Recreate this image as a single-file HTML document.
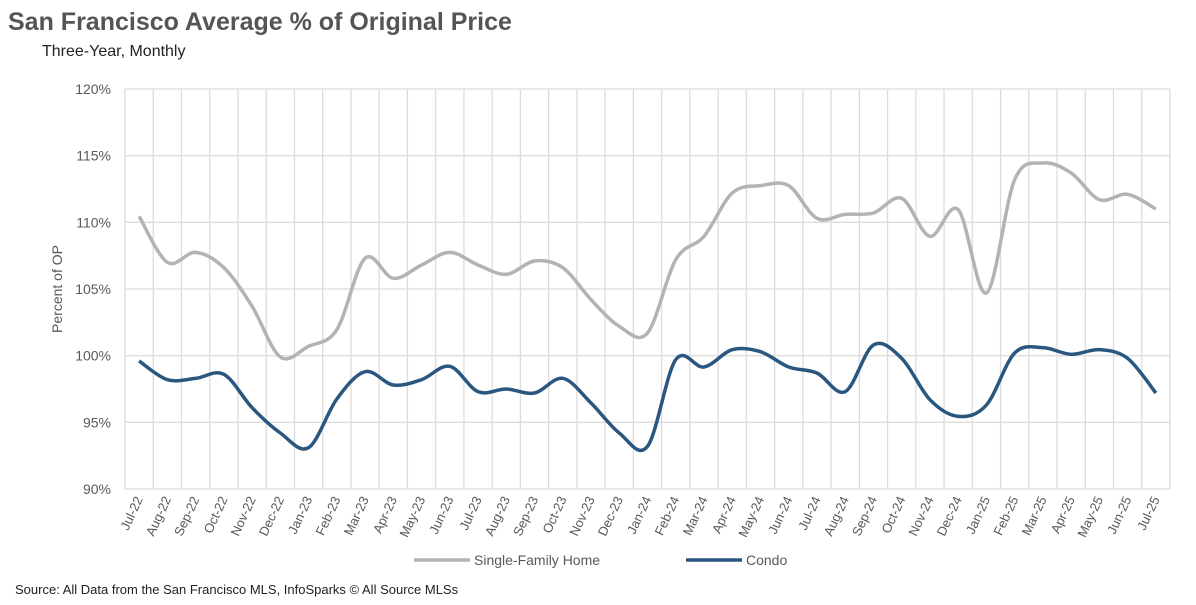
<!DOCTYPE html>
<html><head><meta charset="utf-8"><style>
body{margin:0;background:#fff;width:1196px;height:600px;overflow:hidden;font-family:"Liberation Sans",sans-serif}
</style></head><body>
<svg width="1196" height="600">
<text x="8" y="30" font-size="25" font-weight="bold" fill="#555">San Francisco Average % of Original Price</text>
<text x="42" y="56" font-size="16" fill="#222">Three-Year, Monthly</text>
<text transform="translate(62,289) rotate(-90)" text-anchor="middle" font-size="14" fill="#595959">Percent of OP</text>
<g id="grid"></g>
<g id="ylab"></g>
<g id="xlab"></g>
<g id="lines"></g>
<g>
<line x1="414" y1="560" x2="470" y2="560" stroke="#b3b3b3" stroke-width="3.5"/>
<text x="474" y="565" font-size="14" fill="#595959">Single-Family Home</text>
<line x1="686" y1="560" x2="742" y2="560" stroke="#2a5780" stroke-width="3.5"/>
<text x="746" y="565" font-size="14" fill="#595959">Condo</text>
</g>
<text x="15" y="594" font-size="13" fill="#222">Source: All Data from the San Francisco MLS, InfoSparks © All Source MLSs</text>
</svg>
<script>
const categories=["Jul-22","Aug-22","Sep-22","Oct-22","Nov-22","Dec-22","Jan-23","Feb-23","Mar-23","Apr-23","May-23","Jun-23","Jul-23","Aug-23","Sep-23","Oct-23","Nov-23","Dec-23","Jan-24","Feb-24","Mar-24","Apr-24","May-24","Jun-24","Jul-24","Aug-24","Sep-24","Oct-24","Nov-24","Dec-24","Jan-25","Feb-25","Mar-25","Apr-25","May-25","Jun-25","Jul-25"];
const sfhValues=[110.45,107.0,107.75,106.6,103.7,99.9,100.7,101.95,107.3,105.8,106.8,107.75,106.8,106.1,107.1,106.6,104.2,102.2,101.7,107.2,108.95,112.2,112.75,112.75,110.3,110.6,110.7,111.8,108.95,110.95,104.7,113.2,114.45,113.7,111.7,112.1,111.0];
const condoValues=[99.6,98.2,98.3,98.6,96.1,94.2,93.1,96.75,98.8,97.8,98.2,99.2,97.3,97.5,97.2,98.3,96.45,94.2,93.2,99.7,99.15,100.45,100.3,99.15,98.7,97.3,100.8,99.8,96.7,95.45,96.3,100.2,100.6,100.1,100.45,99.8,97.2];
const yTicks=[90,95,100,105,110,115,120];
const L=125,R=1170,T=89,B=489,yMin=90,yMax=120;
const bw=(R-L)/categories.length;
const xs=i=>L+bw*(i+0.5);
const ys=v=>B-(v-yMin)/(yMax-yMin)*(B-T);
const NS="http://www.w3.org/2000/svg";
function mk(tag,attrs,parent){const e=document.createElementNS(NS,tag);for(const k in attrs)e.setAttribute(k,attrs[k]);parent.appendChild(e);return e;}
const grid=document.getElementById('grid'),ylab=document.getElementById('ylab'),xlab=document.getElementById('xlab'),lines=document.getElementById('lines');
yTicks.forEach(t=>{const l=mk('line',{x1:L,x2:R,y1:ys(t),y2:ys(t),stroke:'#dcdcdc','stroke-width':1.3},grid);


const tx=mk('text',{x:L-14,y:ys(t)+5,'text-anchor':'end','font-size':14,fill:'#595959'},ylab);tx.textContent=t+'%';

});
for(let i=0;i<=categories.length;i++){const l=mk('line',{x1:L+bw*i,x2:L+bw*i,y1:T,y2:B,stroke:'#dcdcdc','stroke-width':1.3},grid);

}
categories.forEach((c,i)=>{const x=xs(i)+4,y=B+10;const tx=mk('text',{x:x,y:y,'text-anchor':'end','font-size':13,fill:'#595959',transform:`rotate(-65 ${x} ${y})`},xlab);tx.textContent=c;

});
function smooth(vals){const p=vals.map((v,i)=>[xs(i),ys(v)]);let d=`M${p[0][0]},${p[0][1]}`;
for(let i=0;i<p.length-1;i++){const p0=p[i-1]||p[i],p1=p[i],p2=p[i+1],p3=p[i+2]||p2;
const c1=[p1[0]+(p2[0]-p0[0])/6,p1[1]+(p2[1]-p0[1])/6],c2=[p2[0]-(p3[0]-p1[0])/6,p2[1]-(p3[1]-p1[1])/6];
d+=` C${c1[0]},${c1[1]} ${c2[0]},${c2[1]} ${p2[0]},${p2[1]}`;}return d;}
const s1=mk('path',{d:smooth(sfhValues),fill:'none',stroke:'#b3b3b3','stroke-width':3.5,'stroke-linejoin':'round'},lines);


const s2=mk('path',{d:smooth(condoValues),fill:'none',stroke:'#2a5780','stroke-width':3.5,'stroke-linejoin':'round'},lines);


</script>
</body></html>
